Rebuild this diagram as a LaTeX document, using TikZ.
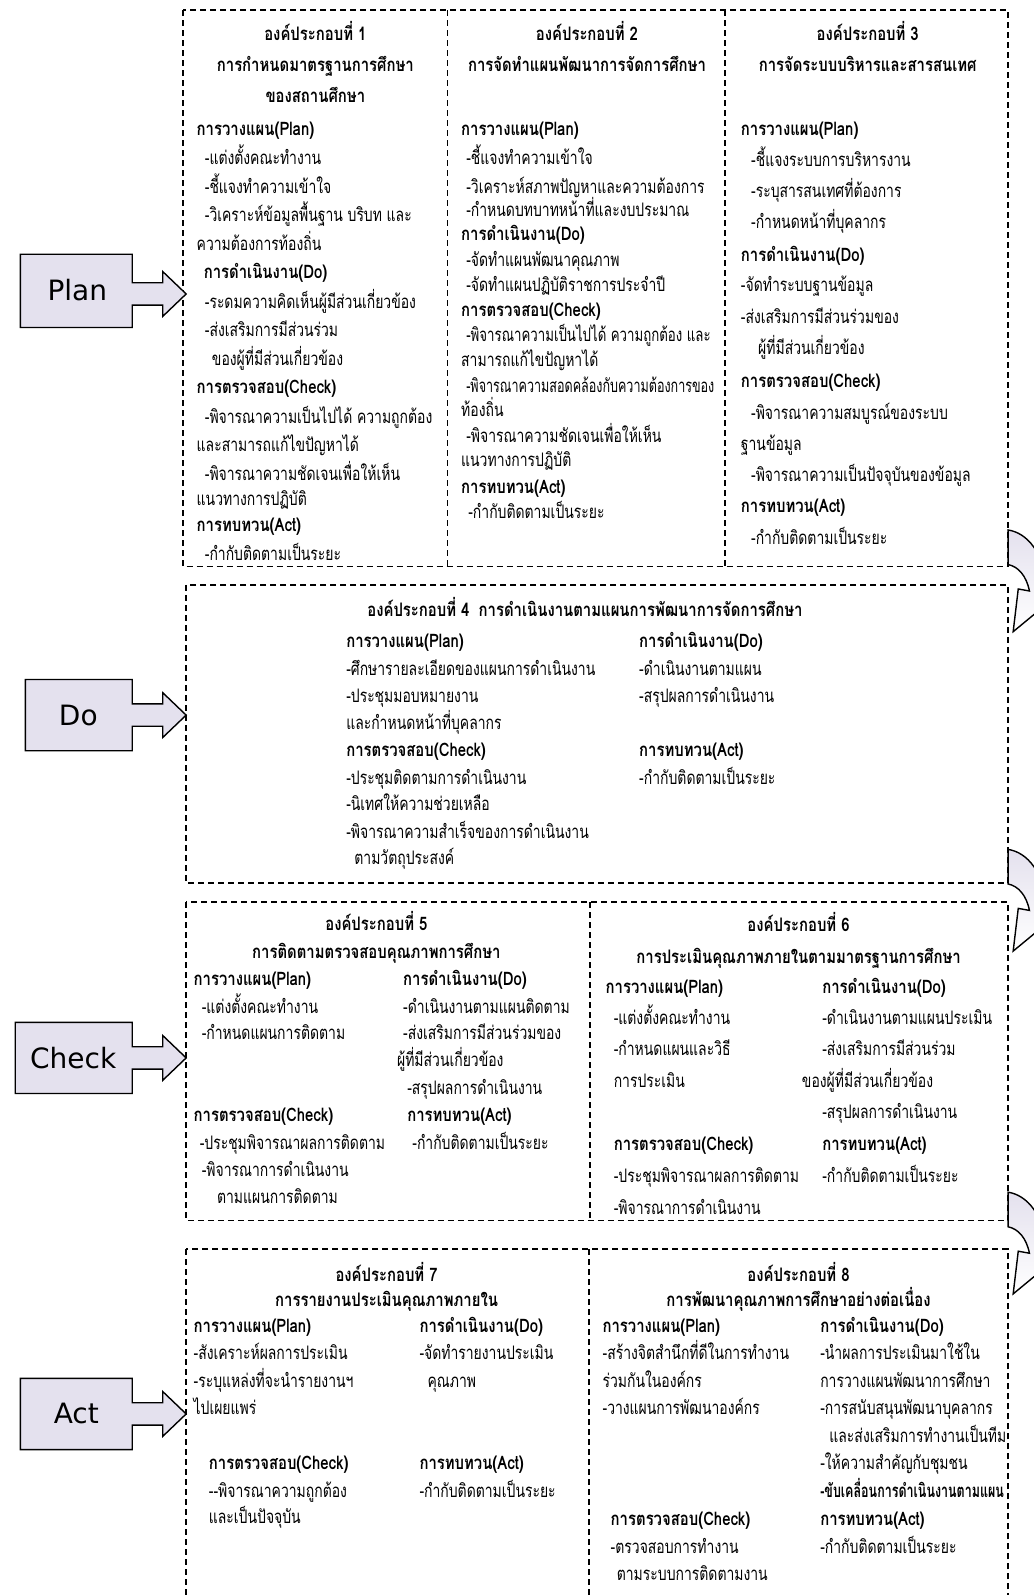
\documentclass[tikz,border=0pt]{standalone}
\usepackage{fontspec}
\setmainfont[Script=Thai, FakeStretch=0.75, BoldFeatures={FakeStretch=0.8}]{Loma}
\newfontfamily\pdcafont{DejaVu Sans}
\usetikzlibrary{positioning}
\definecolor{Lavender}{HTML}{E4E1EE}

\begin{document}
\begin{tikzpicture}[x=0.5086pt, y=-0.5086pt,
    dashbox/.style={draw=black, line width=0.8pt, dash pattern=on 3pt off 2pt},
    pdca/.style={draw=black, line width=0.7pt, fill=Lavender},
    pdcatext/.style={font=\pdcafont\fontsize{14}{16}\selectfont, inner sep=0pt},
    turn/.style={draw=black, line width=0.7pt, top color=Lavender, bottom color=white},
    ttl/.style={font=\bfseries\fontsize{9.3}{11}\selectfont, anchor=base, inner sep=0pt, yshift=-3.5pt},
    sect/.style={font=\bfseries\fontsize{9.3}{11}\selectfont, anchor=base west, inner sep=0pt, yshift=-3.5pt},
    body/.style={font=\fontsize{9.3}{11}\selectfont, anchor=base west, inner sep=0pt, yshift=-3.5pt}
]
    \useasboundingbox (0,0) rectangle (1016.4,1568);
    \clip (0,0) rectangle (1016.4,1568);
    \fill[white] (0,0) rectangle (1016.4,1568);

    % Dashed frames
    \draw[dashbox] (180,10) rectangle (991,557);
    \draw[dashbox] (440,10) -- (440,557);
    \draw[dashbox] (713,10) -- (713,557);
    \draw[dashbox] (183,575) rectangle (991,868);
    \draw[dashbox] (183,887) rectangle (991,1200);
    \draw[dashbox] (580,887) -- (580,1200);
    \draw[dashbox] (183,1228) rectangle (991,1640);
    \draw[dashbox] (579,1228) -- (579,1640);

    % PDCA arrows on the left
    \draw[pdca] (20,250) -- (130,250) -- (130,278) -- (160,278) -- (160,267) -- (183,289)
        -- (160,311) -- (160,300) -- (130,300) -- (130,322) -- (20,322) -- cycle;
    \node[pdcatext] (plan) at (76,285) {Plan};
    \draw[pdca] (25,668) -- (130,668) -- (130,692) -- (160,692) -- (160,681) -- (183,703)
        -- (160,725) -- (160,714) -- (130,714) -- (130,738) -- (25,738) -- cycle;
    \node[pdcatext] (do) at (77,703) {Do};
    \draw[pdca] (15,1005) -- (130,1005) -- (130,1029) -- (160,1029) -- (160,1018) -- (183,1040)
        -- (160,1062) -- (160,1051) -- (130,1051) -- (130,1075) -- (15,1075) -- cycle;
    \node[pdcatext] (check) at (72,1040) {Check};
    \draw[pdca] (20,1355) -- (130,1355) -- (130,1379) -- (160,1379) -- (160,1368) -- (183,1390)
        -- (160,1412) -- (160,1401) -- (130,1401) -- (130,1425) -- (20,1425) -- cycle;
    \node[pdcatext] (act) at (75,1390) {Act};

    % Turning arrows on the right (cut by the page edge)
    \foreach \ys in {521,835,1172} {
        \begin{scope}[shift={(0,\ys)}]
            \draw[turn] (991,0) .. controls (1010,3) and (1026,22) .. (1030,58)
                -- (1042,62) -- (996,100) -- (1001,58) -- (1012,60)
                .. controls (1009,45) and (1001,36) .. (991,34) -- cycle;
        \end{scope}
    }

    % Component 1
    \node[ttl] (b1t1) at (310,33) {องค์ประกอบที่ 1};
    \node[ttl] (b1t2) at (310,63) {การกำหนดมาตรฐานการศึกษา};
    \node[ttl] (b1t3) at (310,94) {ของสถานศึกษา};
    \node[sect] (b1p) at (193,126) {การวางแผน(Plan)};
    \node[body] (b1p1) at (201,155) {-แต่งตั้งคณะทำงาน};
    \node[body] (b1p2) at (201,183) {-ชี้แจงทำความเข้าใจ};
    \node[body] (b1p3) at (201,211) {-วิเคราะห์ข้อมูลพื้นฐาน บริบท และ};
    \node[body] (b1p4) at (193,239) {ความต้องการท้องถิ่น};
    \node[sect] (b1d) at (200,267) {การดำเนินงาน(Do)};
    \node[body] (b1d1) at (201,296) {-ระดมความคิดเห็นผู้มีส่วนเกี่ยวข้อง};
    \node[body] (b1d2) at (201,324) {-ส่งเสริมการมีส่วนร่วม};
    \node[body] (b1d3) at (208,352) {ของผู้ที่มีส่วนเกี่ยวข้อง};
    \node[sect] (b1c) at (193,380) {การตรวจสอบ(Check)};
    \node[body] (b1c1) at (201,409) {-พิจารณาความเป็นไปได้ ความถูกต้อง};
    \node[body] (b1c2) at (193,437) {และสามารถแก้ไขปัญหาได้};
    \node[body] (b1c3) at (201,465) {-พิจารณาความชัดเจนเพื่อให้เห็น};
    \node[body] (b1c4) at (193,490) {แนวทางการปฏิบัติ};
    \node[sect] (b1a) at (193,516) {การทบทวน(Act)};
    \node[body] (b1a1) at (201,544) {-กำกับติดตามเป็นระยะ};

    % Component 2
    \node[ttl] (b2t1) at (577,33) {องค์ประกอบที่ 2};
    \node[ttl] (b2t2) at (577,63) {การจัดทำแผนพัฒนาการจัดการศึกษา};
    \node[sect] (b2p) at (453,126) {การวางแผน(Plan)};
    \node[body] (b2p1) at (458,155) {-ชี้แจงทำความเข้าใจ};
    \node[body] (b2p2) at (458,183) {-วิเคราะห์สภาพปัญหาและความต้องการ};
    \node[body] (b2p3) at (458,206) {-กำหนดบทบาทหน้าที่และงบประมาณ};
    \node[sect] (b2d) at (453,230) {การดำเนินงาน(Do)};
    \node[body] (b2d1) at (458,255) {-จัดทำแผนพัฒนาคุณภาพ};
    \node[body] (b2d2) at (458,280) {-จัดทำแผนปฏิบัติราชการประจำปี};
    \node[sect] (b2c) at (453,304) {การตรวจสอบ(Check)};
    \node[body] (b2c1) at (458,329) {\scalebox{0.95}[1]{-พิจารณาความเป็นไปได้ ความถูกต้อง และ}};
    \node[body] (b2c2) at (453,353) {สามารถแก้ไขปัญหาได้};
    \node[body] (b2c3) at (458,379) {\scalebox{0.9}[1]{-พิจารณาความสอดคล้องกับความต้องการของ}};
    \node[body] (b2c4) at (453,403) {ท้องถิ่น};
    \node[body] (b2c5) at (458,428) {-พิจารณาความชัดเจนเพื่อให้เห็น};
    \node[body] (b2c6) at (453,452) {แนวทางการปฏิบัติ};
    \node[sect] (b2a) at (453,478) {การทบทวน(Act)};
    \node[body] (b2a1) at (460,503) {-กำกับติดตามเป็นระยะ};

    % Component 3
    \node[ttl] (b3t1) at (853,33) {องค์ประกอบที่ 3};
    \node[ttl] (b3t2) at (853,63) {การจัดระบบบริหารและสารสนเทศ};
    \node[sect] (b3p) at (728,126) {การวางแผน(Plan)};
    \node[body] (b3p1) at (738,157) {-ชี้แจงระบบการบริหารงาน};
    \node[body] (b3p2) at (738,187) {-ระบุสารสนเทศที่ต้องการ};
    \node[body] (b3p3) at (738,218) {-กำหนดหน้าที่บุคลากร};
    \node[sect] (b3d) at (728,250) {การดำเนินงาน(Do)};
    \node[body] (b3d1) at (728,280) {-จัดทำระบบฐานข้อมูล};
    \node[body] (b3d2) at (728,311) {-ส่งเสริมการมีส่วนร่วมของ};
    \node[body] (b3d3) at (745,342) {ผู้ที่มีส่วนเกี่ยวข้อง};
    \node[sect] (b3c) at (728,374) {การตรวจสอบ(Check)};
    \node[body] (b3c1) at (738,406) {-พิจารณาความสมบูรณ์ของระบบ};
    \node[body] (b3c2) at (728,436) {ฐานข้อมูล};
    \node[body] (b3c3) at (738,466) {-พิจารณาความเป็นปัจจุบันของข้อมูล};
    \node[sect] (b3a) at (728,497) {การทบทวน(Act)};
    \node[body] (b3a1) at (738,528) {-กำกับติดตามเป็นระยะ};

    % Component 4
    \node[ttl] (b4t1) at (575,599) {องค์ประกอบที่ 4\enspace การดำเนินงานตามแผนการพัฒนาการจัดการศึกษา};
    \node[sect] (b4p) at (340,630) {การวางแผน(Plan)};
    \node[body] (b4p1) at (340,657) {-ศึกษารายละเอียดของแผนการดำเนินงาน};
    \node[body] (b4p2) at (340,684) {-ประชุมมอบหมายงาน};
    \node[body] (b4p3) at (340,710) {และกำหนดหน้าที่บุคลากร};
    \node[sect] (b4c) at (340,737) {การตรวจสอบ(Check)};
    \node[body] (b4c1) at (340,764) {-ประชุมติดตามการดำเนินงาน};
    \node[body] (b4c2) at (340,790) {-นิเทศให้ความช่วยเหลือ};
    \node[body] (b4c3) at (340,817) {-พิจารณาความสำเร็จของการดำเนินงาน};
    \node[body] (b4c4) at (348,843) {ตามวัตถุประสงค์};
    \node[sect] (b4d) at (628,630) {การดำเนินงาน(Do)};
    \node[body] (b4d1) at (628,657) {-ดำเนินงานตามแผน};
    \node[body] (b4d2) at (628,684) {-สรุปผลการดำเนินงาน};
    \node[sect] (b4a) at (628,737) {การทบทวน(Act)};
    \node[body] (b4a1) at (628,764) {-กำกับติดตามเป็นระยะ};

    % Component 5
    \node[ttl] (b5t1) at (370,908) {องค์ประกอบที่ 5};
    \node[ttl] (b5t2) at (370,935) {การติดตามตรวจสอบคุณภาพการศึกษา};
    \node[sect] (b5p) at (190,962) {การวางแผน(Plan)};
    \node[body] (b5p1) at (198,989) {-แต่งตั้งคณะทำงาน};
    \node[body] (b5p2) at (198,1015) {-กำหนดแผนการติดตาม};
    \node[sect] (b5d) at (396,962) {การดำเนินงาน(Do)};
    \node[body] (b5d1) at (396,989) {-ดำเนินงานตามแผนติดตาม};
    \node[body] (b5d2) at (396,1015) {-ส่งเสริมการมีส่วนร่วมของ};
    \node[body] (b5d3) at (390,1042) {ผู้ที่มีส่วนเกี่ยวข้อง};
    \node[body] (b5d4) at (400,1069) {-สรุปผลการดำเนินงาน};
    \node[sect] (b5c) at (190,1096) {การตรวจสอบ(Check)};
    \node[body] (b5c1) at (196,1123) {-ประชุมพิจารณาผลการติดตาม};
    \node[body] (b5c2) at (198,1150) {-พิจารณาการดำเนินงาน};
    \node[body] (b5c3) at (213,1176) {ตามแผนการติดตาม};
    \node[sect] (b5a) at (400,1096) {การทบทวน(Act)};
    \node[body] (b5a1) at (405,1123) {-กำกับติดตามเป็นระยะ};

    % Component 6
    \node[ttl] (b6t1) at (785,909) {องค์ประกอบที่ 6};
    \node[ttl] (b6t2) at (785,940) {การประเมินคุณภาพภายในตามมาตรฐานการศึกษา};
    \node[sect] (b6p) at (595,970) {การวางแผน(Plan)};
    \node[body] (b6p1) at (603,1000) {-แต่งตั้งคณะทำงาน};
    \node[body] (b6p2) at (603,1031) {-กำหนดแผนและวิธี};
    \node[body] (b6p3) at (603,1062) {การประเมิน};
    \node[sect] (b6d) at (808,970) {การดำเนินงาน(Do)};
    \node[body] (b6d1) at (808,1000) {-ดำเนินงานตามแผนประเมิน};
    \node[body] (b6d2) at (808,1031) {-ส่งเสริมการมีส่วนร่วม};
    \node[body] (b6d3) at (788,1062) {ของผู้ที่มีส่วนเกี่ยวข้อง};
    \node[body] (b6d4) at (808,1093) {-สรุปผลการดำเนินงาน};
    \node[sect] (b6c) at (603,1124) {การตรวจสอบ(Check)};
    \node[body] (b6c1) at (603,1156) {-ประชุมพิจารณาผลการติดตาม};
    \node[body] (b6c2) at (603,1187) {-พิจารณาการดำเนินงาน};
    \node[sect] (b6a) at (808,1124) {การทบทวน(Act)};
    \node[body] (b6a1) at (808,1156) {-กำกับติดตามเป็นระยะ};

    % Component 7
    \node[ttl] (b7t1) at (380,1253) {องค์ประกอบที่ 7};
    \node[ttl] (b7t2) at (380,1277) {การรายงานประเมินคุณภาพภายใน};
    \node[sect] (b7p) at (190,1303) {การวางแผน(Plan)};
    \node[body] (b7p1) at (190,1330) {-สังเคราะห์ผลการประเมิน};
    \node[body] (b7p2) at (190,1357) {-ระบุแหล่งที่จะนำรายงานฯ};
    \node[body] (b7p3) at (190,1384) {ไปเผยแพร่};
    \node[sect] (b7d) at (412,1303) {การดำเนินงาน(Do)};
    \node[body] (b7d1) at (412,1330) {-จัดทำรายงานประเมิน};
    \node[body] (b7d2) at (420,1357) {คุณภาพ};
    \node[sect] (b7c) at (205,1438) {การตรวจสอบ(Check)};
    \node[body] (b7c1) at (205,1465) {-{}-พิจารณาความถูกต้อง};
    \node[body] (b7c2) at (205,1491) {และเป็นปัจจุบัน};
    \node[sect] (b7a) at (412,1438) {การทบทวน(Act)};
    \node[body] (b7a1) at (412,1465) {-กำกับติดตามเป็นระยะ};

    % Component 8
    \node[ttl] (b8t1) at (785,1253) {องค์ประกอบที่ 8};
    \node[ttl] (b8t2) at (785,1277) {การพัฒนาคุณภาพการศึกษาอย่างต่อเนื่อง};
    \node[sect] (b8p) at (592,1303) {การวางแผน(Plan)};
    \node[body] (b8p1) at (592,1330) {-สร้างจิตสำนึกที่ดีในการทำงาน};
    \node[body] (b8p2) at (592,1357) {ร่วมกันในองค์กร};
    \node[body] (b8p3) at (592,1384) {-วางแผนการพัฒนาองค์กร};
    \node[sect] (b8d) at (806,1303) {การดำเนินงาน(Do)};
    \node[body] (b8d1) at (806,1330) {-นำผลการประเมินมาใช้ใน};
    \node[body] (b8d2) at (806,1357) {การวางแผนพัฒนาการศึกษา};
    \node[body] (b8d3) at (806,1384) {-การสนับสนุนพัฒนาบุคลากร};
    \node[body] (b8d4) at (815,1411) {และส่งเสริมการทำงานเป็นทีม};
    \node[body] (b8d5) at (806,1438) {-ให้ความสำคัญกับชุมชน};
    \node[sect] (b8d6) at (806,1465) {\scalebox{0.84}[1]{-ขับเคลื่อนการดำเนินงานตามแผน}};
    \node[sect] (b8c) at (600,1493) {การตรวจสอบ(Check)};
    \node[body] (b8c1) at (600,1520) {-ตรวจสอบการทำงาน};
    \node[body] (b8c2) at (606,1547) {ตามระบบการติดตามงาน};
    \node[sect] (b8a) at (806,1493) {การทบทวน(Act)};
    \node[body] (b8a1) at (806,1520) {-กำกับติดตามเป็นระยะ};
\end{tikzpicture}
\end{document}
